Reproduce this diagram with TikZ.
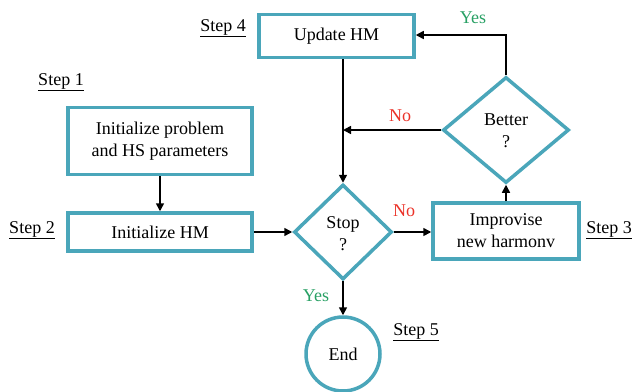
\documentclass[tikz,border=0pt]{standalone}
\usepackage{fontspec}
\setmainfont{Liberation Serif}
\usetikzlibrary{shapes.geometric,arrows.meta}
\definecolor{teal1}{RGB}{74,166,186}
\definecolor{yesgreen}{RGB}{40,160,100}
\definecolor{nored}{RGB}{235,50,40}
\tikzset{
  x=1pt,y=-1pt,
  txt/.style={font=\fontsize{18}{22}\selectfont},
  box/.style={draw=teal1,line width=3.5pt,fill=white,align=center,txt,inner sep=0pt},
  steplbl/.style={txt,inner sep=0pt},
  conn/.style={draw=black,line width=1.6pt,-{Triangle[length=8pt,width=8pt]}},
  yeslbl/.style={text=yesgreen,txt,inner sep=0pt},
  nolbl/.style={text=nored,txt,inner sep=0pt},
}
\begin{document}
\begin{tikzpicture}
\useasboundingbox (0,0) rectangle (632,391);
% boxes
\node[box,minimum width=155,minimum height=43] (upd) at (336.5,36) {Update HM};
\node[box,minimum width=184,minimum height=67] (init) at (160,141) {Initialize problem\\ and HS parameters};
\node[box,minimum width=184,minimum height=38] (ihm) at (160,232) {Initialize HM};
\node[box,minimum width=146,minimum height=56] (imp) at (506,231) {Improvise\\ new harmonv};
\node[diamond,draw=teal1,line width=3.5pt,fill=white,inner sep=0pt,minimum width=98,minimum height=95,aspect=0.85] (stop) at (343,232) {};
\node[txt,align=center] (stoptxt) at (343,234) {Stop\\?};
\node[diamond,draw=teal1,line width=3.5pt,fill=white,inner sep=0pt,minimum width=126,minimum height=106,aspect=1.2] (bet) at (506,130) {};
\node[txt,align=center] (bettxt) at (506,131) {Better\\?};
\node[circle,draw=teal1,line width=3.5pt,fill=white,minimum size=74,inner sep=0pt,txt] (end) at (343,354) {End};
% step labels
\node[steplbl] (s4) at (223,28) {\underline{Step 4}};
\node[steplbl] (s1) at (61,82) {\underline{Step 1}};
\node[steplbl] (s2) at (32,230) {\underline{Step 2}};
\node[steplbl] (s3) at (609,230) {\underline{Step 3}};
\node[steplbl] (s5) at (416,332) {\underline{Step 5}};
% connectors
\coordinate (merge) at (343,130);
\coordinate (btop) at (506,35);
\draw[conn] (init.south) -- (ihm.north);
\draw[conn] (ihm.east) -- (stop.west);
\draw[conn] (stop.east) -- (stop.east -| imp.west);
\draw[conn] (imp.north) -- (bet.south);
\draw[conn] (bet.north) -- (btop) -- (upd.east |- btop);
\draw[conn] (bet.west) -- (merge);
\draw[conn] (upd.south -| merge) -- (stop.north);
\draw[conn] (stop.south) -- (end.north);
% labels
\node[yeslbl] (y1) at (473,18) {Yes};
\node[nolbl] (n1) at (400,116) {No};
\node[nolbl] (n2) at (404,211) {No};
\node[yeslbl] (y2) at (316,296) {Yes};
\end{tikzpicture}
\end{document}
